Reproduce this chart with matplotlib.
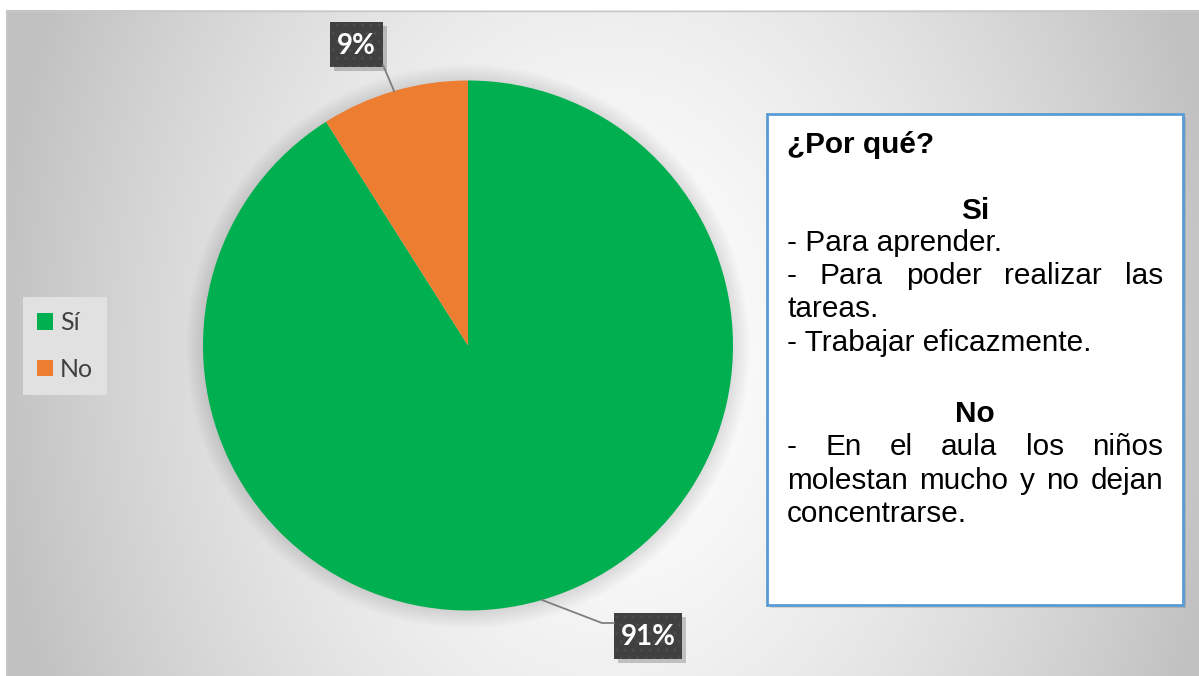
import numpy as np
import matplotlib
matplotlib.use("Agg")
import matplotlib.pyplot as plt
from matplotlib.patches import Rectangle, Circle

W, H = 1199, 676

# data
labels = ["Sí", "No"]
values = [91, 9]
colors = ["#00B050", "#ED7D31"]
pct_text = ["91%", "9%"]

# side note text: (text, justified?)
note_title = "¿Por qué?"
si_heading = "Si"
si_lines = [("- Para aprender.", False),
            ("- Para poder realizar las", True),
            ("tareas.", False),
            ("- Trabajar eficazmente.", False)]
no_heading = "No"
no_lines = [("- En el aula los niños", True),
            ("molestan mucho y no dejan", True),
            ("concentrarse.", False)]

fig = plt.figure(figsize=(W / 100, H / 100), dpi=100)
fig.patch.set_facecolor("white")

# background: soft radial gradient in the chart area
bg = fig.add_axes([0, 0, 1, 1], zorder=0)
bg.set_xlim(0, W)
bg.set_ylim(H, 0)
bg.set_axis_off()
yy, xx = np.mgrid[10:H, 6:W]
r = np.sqrt(((xx - 610) / 620.0) ** 2 + ((yy - 360) / 820.0) ** 2)
g = 255 - 62 * np.clip(r, 0, 1) ** 1.5
grad = np.dstack([g, g, g]) / 255.0
bg.imshow(grad, extent=(6, W, H, 10), aspect="auto", interpolation="bilinear")
bg.plot([6, W], [10.5, 10.5], color="#c8c8c8", lw=1)
bg.plot([6.5, 6.5], [10, H], color="#c8c8c8", lw=1)

# pie
cx, cy, R = 468, 345.5, 265
pax = fig.add_axes([(cx - R) / W, 1 - (cy + R) / H, 2 * R / W, 2 * R / H], zorder=1)
for k in range(10):
    pax.add_patch(Circle((0, -0.004), 1 + 0.007 * k, color="k", alpha=0.012, lw=0,
                         clip_on=False))
wedges, _ = pax.pie(values, colors=colors, startangle=90, counterclock=False,
                    radius=1, wedgeprops=dict(linewidth=0))
pax.set_xlim(-1, 1)
pax.set_ylim(-1, 1)
pax.set_axis_off()

# overlay in pixel coords
ov = fig.add_axes([0, 0, 1, 1], zorder=2)
ov.set_xlim(0, W)
ov.set_ylim(H, 0)
ov.set_axis_off()
ov.patch.set_alpha(0)


def edge_point(w):
    a = np.deg2rad((w.theta1 + w.theta2) / 2)
    return cx + R * np.cos(a), cy - R * np.sin(a)


def label_box(x0, y0, x1, y1, txt):
    ov.add_patch(Rectangle((x0 + 4, y0 + 4), x1 - x0, y1 - y0, fc="k", alpha=0.2, lw=0))
    ov.add_patch(Rectangle((x0, y0), x1 - x0, y1 - y0, fc="#404040", ec="#4c4c4c",
                           lw=0, hatch=".."))
    ov.text((x0 + x1) / 2, (y0 + y1) / 2 + 1, txt, color="white", fontsize=20,
            fontweight="bold", family="Lato", ha="center", va="center")


# 91% label
ex, ey = edge_point(wedges[0])
ov.plot([ex, 602, 614], [ey, 623, 623], color="#7f7f7f", lw=1.3)
label_box(614, 613, 682, 659, pct_text[0])

# 9% label
ex, ey = edge_point(wedges[1])
ov.plot([ex, 383], [ey, 65], color="#7f7f7f", lw=1.3)
label_box(330, 22, 383, 67, pct_text[1])

# legend
leg = ov.legend(wedges, labels, loc="center left", bbox_to_anchor=(23, 346),
                bbox_transform=ov.transData, frameon=True, fancybox=False,
                facecolor="#e1e1e1", edgecolor="none", framealpha=1,
                handlelength=0.64, handleheight=0.64, handletextpad=0.28,
                labelspacing=0.95, borderpad=0.55, borderaxespad=0,
                prop=dict(family="Lato", size=18), labelcolor="#404040")

# note box
bx0, by0, bx1, by1 = 767, 114, 1183, 605
ov.add_patch(Rectangle((bx0 + 3, by0 + 3), bx1 - bx0, by1 - by0, fc="k", alpha=0.12, lw=0))
ov.add_patch(Rectangle((bx0, by0), bx1 - bx0, by1 - by0, fc="white", ec="#5B9BD5", lw=2))

FONT = "Liberation Sans"
FS = 21.4
L, RT = 787, 1163
renderer = fig.canvas.get_renderer()


def put_line(txt, y, justify):
    if not justify:
        ov.text(L, y, txt, family=FONT, fontsize=FS, va="baseline", ha="left")
        return
    words = txt.split(" ")
    objs = [ov.text(0, y, w_, family=FONT, fontsize=FS, va="baseline", ha="left")
            for w_ in words]
    widths = [o.get_window_extent(renderer).width for o in objs]
    gap = (RT - L - sum(widths)) / (len(words) - 1)
    x = L
    for o, wd in zip(objs, widths):
        o.set_x(x)
        x += wd + gap


ov.text(L, 153, note_title, family=FONT, fontsize=FS, fontweight="bold", va="baseline")
ov.text((bx0 + bx1) / 2, 219, si_heading, family=FONT, fontsize=FS, fontweight="bold",
        va="baseline", ha="center")
for (t, j), y in zip(si_lines, [251, 284, 317, 351]):
    put_line(t, y, j)
ov.text((bx0 + bx1) / 2, 422, no_heading, family=FONT, fontsize=FS, fontweight="bold",
        va="baseline", ha="center")
for (t, j), y in zip(no_lines, [455, 489, 522]):
    put_line(t, y, j)

fig.savefig("out.png", dpi=100)
